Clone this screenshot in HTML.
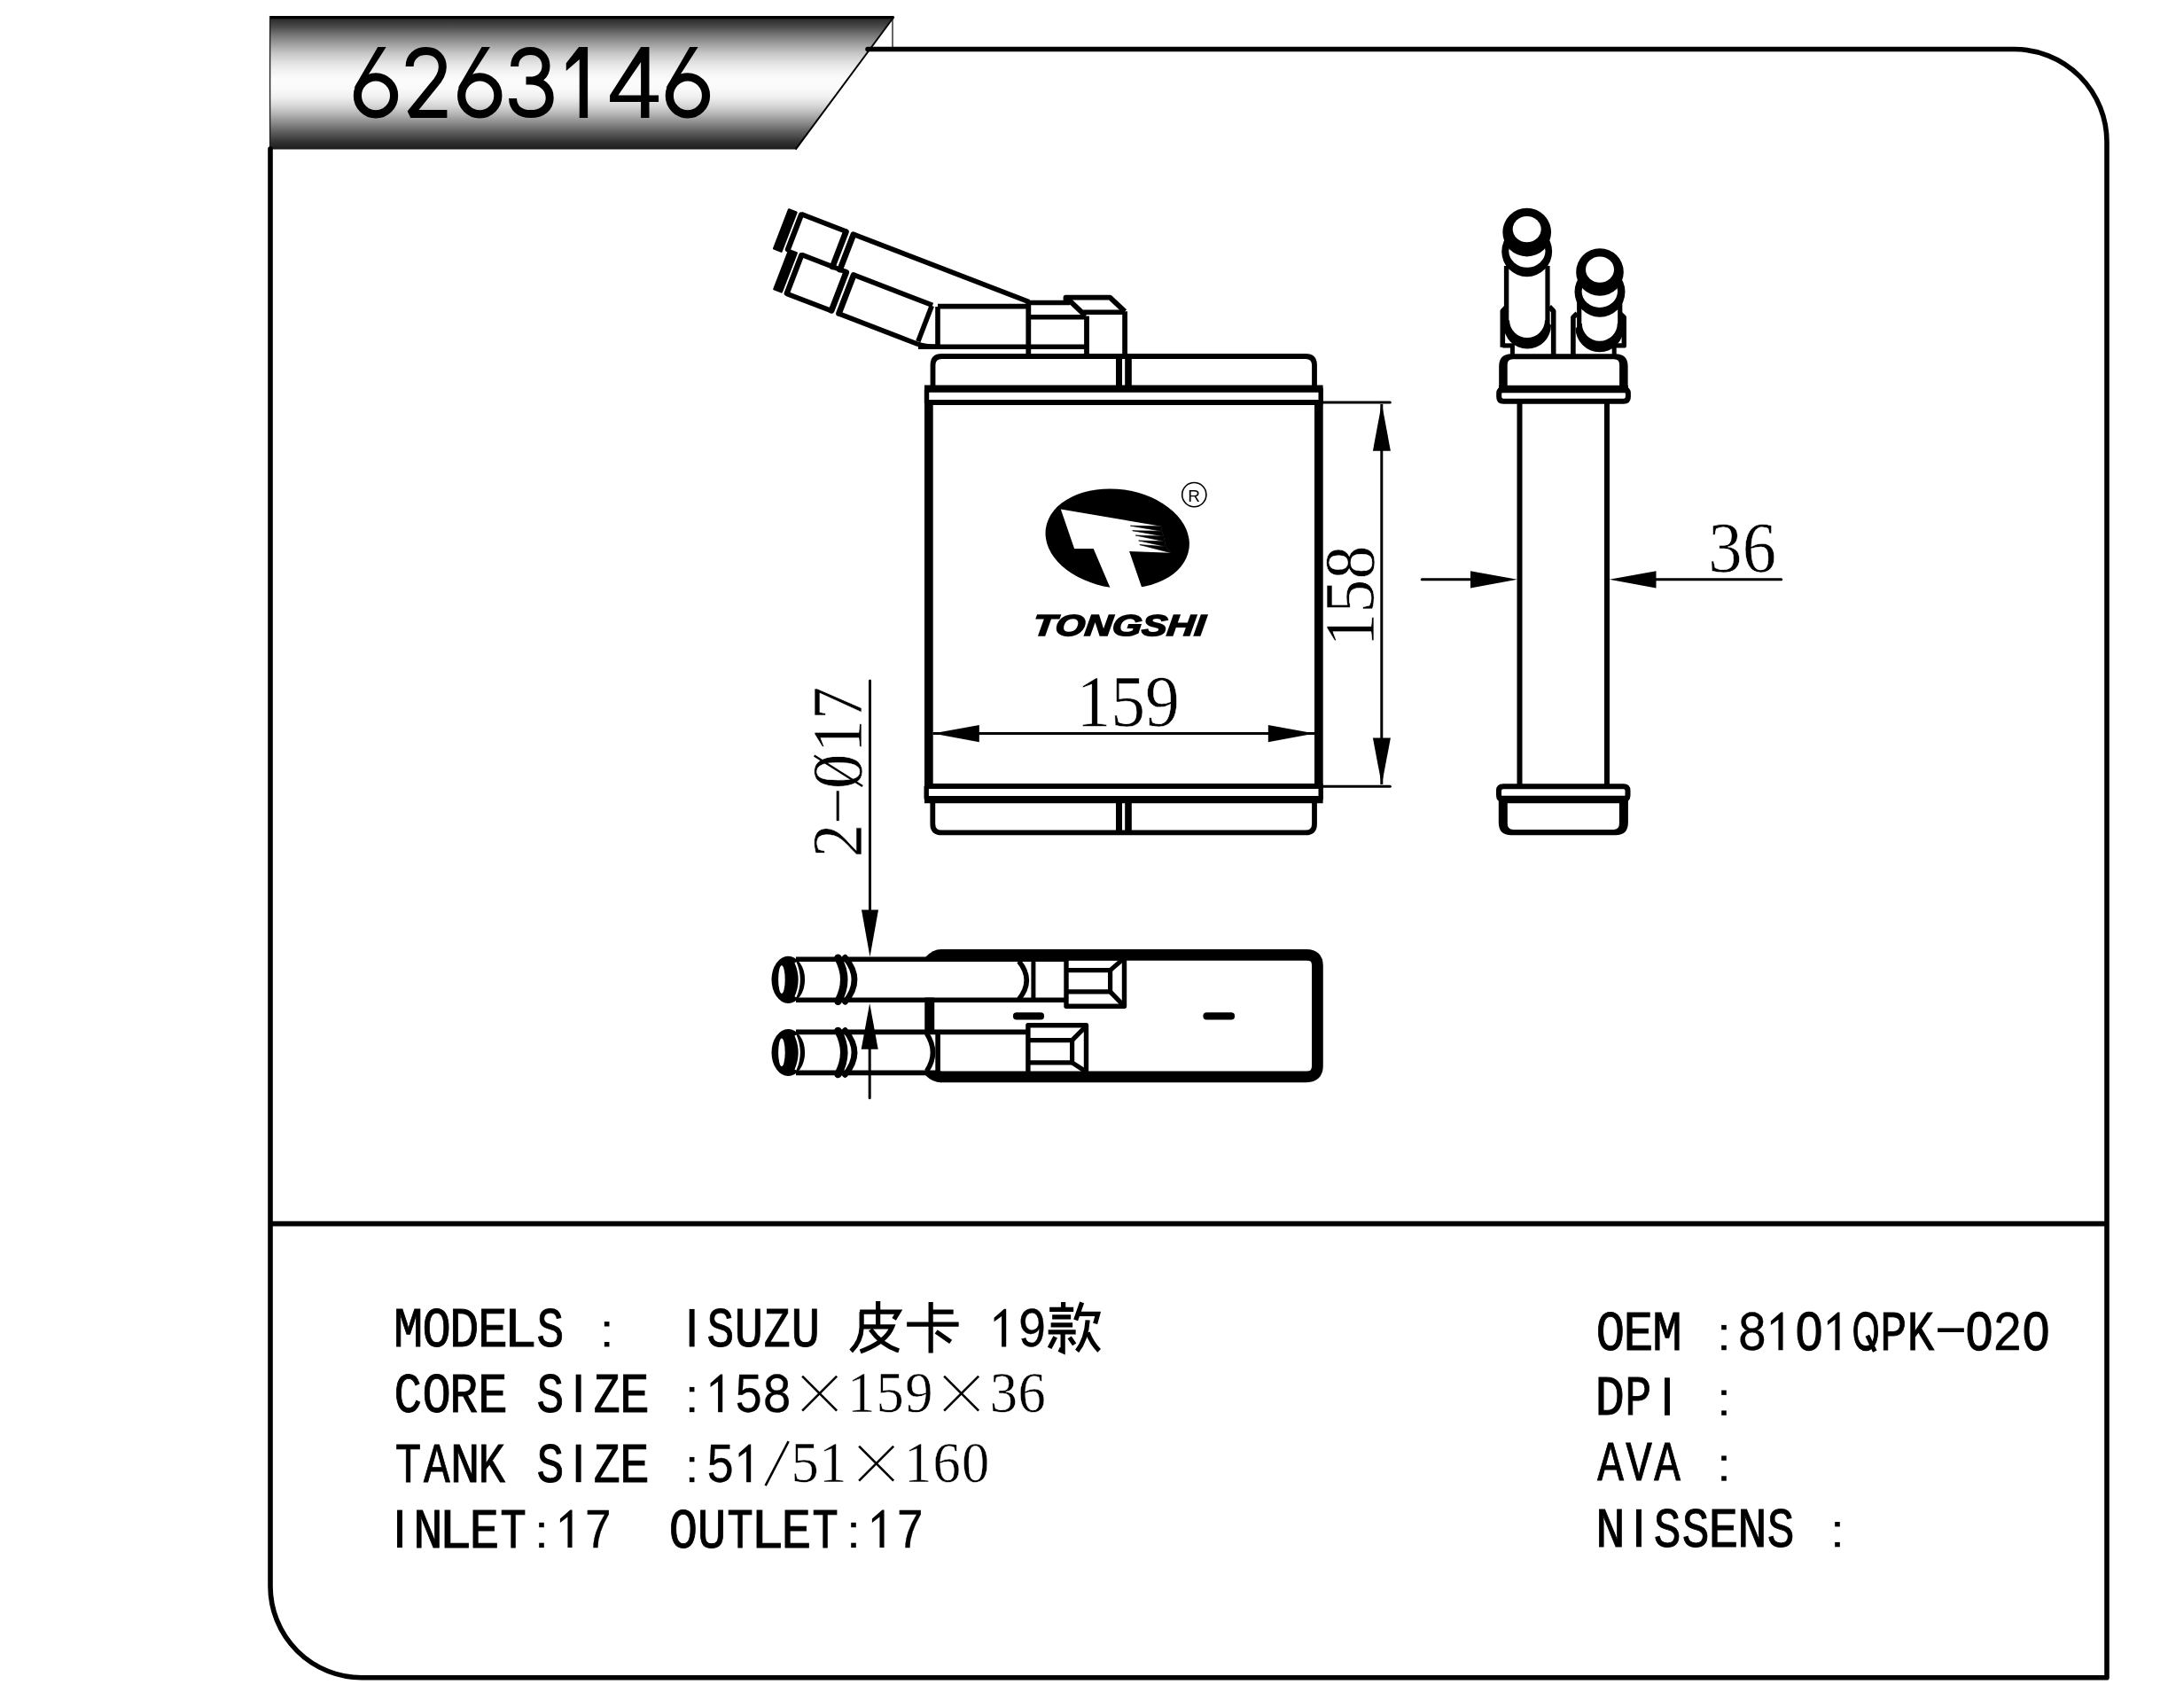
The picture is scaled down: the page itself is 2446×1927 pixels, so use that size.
<!DOCTYPE html>
<html><head><meta charset="utf-8"><style>
html,body{margin:0;padding:0;background:#fff;}
body{width:2446px;height:1927px;overflow:hidden;font-family:"Liberation Sans",sans-serif;}
svg{display:block;}
</style></head><body>
<svg width="2446" height="1927" viewBox="0 0 2446 1927">
<defs>
<linearGradient id="bg" x1="0" y1="18" x2="0" y2="169" gradientUnits="userSpaceOnUse">
<stop offset="0.000" stop-color="#111"/>
<stop offset="0.020" stop-color="#2a2a2a"/>
<stop offset="0.079" stop-color="#4a4a4a"/>
<stop offset="0.146" stop-color="#787878"/>
<stop offset="0.212" stop-color="#a0a0a0"/>
<stop offset="0.278" stop-color="#c5c5c5"/>
<stop offset="0.344" stop-color="#e0e0e0"/>
<stop offset="0.411" stop-color="#f2f2f2"/>
<stop offset="0.477" stop-color="#fcfcfc"/>
<stop offset="0.543" stop-color="#fafafa"/>
<stop offset="0.609" stop-color="#efefef"/>
<stop offset="0.675" stop-color="#d5d5d5"/>
<stop offset="0.742" stop-color="#afafaf"/>
<stop offset="0.808" stop-color="#858585"/>
<stop offset="0.874" stop-color="#5a5a5a"/>
<stop offset="0.940" stop-color="#333333"/>
<stop offset="1.000" stop-color="#1a1a1a"/>
</linearGradient>
<filter id="gs" x="-5%" y="-20%" width="110%" height="140%"><feColorMatrix type="saturate" values="0"/></filter>
</defs>
<path d="M304 18 L1008.5 18 L897.6 168.6 L304 168.6 Z" fill="url(#bg)"/>
<path d="M304 19.6 L1008.5 19.6" stroke="#000" stroke-width="3.4"/>
<path d="M304.6 18 L304.6 168.6" stroke="#222" stroke-width="1.4"/>
<path d="M1008.5 19 L897.6 168.6" stroke="#000" stroke-width="2"/>
<path d="M1007 20 L1007 55" stroke="#000" stroke-width="1.2"/>
<ellipse cx="424" cy="107.9" rx="20.6" ry="21" fill="none" stroke="#000" stroke-width="9.2"/><path d="M399.3 99.5 L426.3 53.1 L435.7 53.1 L414.5 86 Z"/>
<ellipse cx="541.25" cy="107.9" rx="20.6" ry="21" fill="none" stroke="#000" stroke-width="9.2"/><path d="M516.55 99.5 L543.55 53.1 L552.95 53.1 L531.75 86 Z"/>
<ellipse cx="775.9" cy="107.9" rx="20.6" ry="21" fill="none" stroke="#000" stroke-width="9.2"/><path d="M751.2 99.5 L778.2 53.1 L787.6 53.1 L766.4 86 Z"/>
<path d="M462.1 75 C462.3 63.5 470.5 57.6 481 57.6 C492 57.6 499.3 65 499.3 75.5 C499.3 83.5 495.5 89.5 489 96.5 L463.2 128.4 L504.4 128.4" fill="none" stroke="#000" stroke-width="9" stroke-linejoin="miter" stroke-miterlimit="1.5"/>
<path d="M580.6 75 C580.6 64 588 57.6 598.5 57.6 C609 57.6 616 64.3 616 74.5 C616 84.5 608.5 91 598 91 L593.5 91 M598 91 C610.5 91 620.2 98.5 620.2 110.5 C620.2 121.5 611.5 128.6 598.5 128.6 C586 128.6 578.6 121.5 578.6 111" fill="none" stroke="#000" stroke-width="9"/>
<path d="M638.75 71.3 L653.1 53.1 L663.1 53.1 L663.1 133.1 L653.75 133.1 L653.75 66.9 L638.75 80 Z"/>
<path d="M688.1 107.5 L723.1 53.1 L732.5 53.1 L732.5 107.5 L743.1 107.5 L743.1 115 L732.5 115 L732.5 133.1 L723.1 133.1 L723.1 115 L688.1 115 Z M697.5 107.5 L723.1 70 L723.1 107.5 Z" fill-rule="evenodd"/>
<path d="M305 168 L305 1790 A103 103 0 0 0 408 1892.7 L2377 1892.7 L2377 160 A104.5 104.5 0 0 0 2272.5 55.5 L979 55.5" stroke="#000" stroke-width="5.6" fill="none" stroke-linecap="round" stroke-linejoin="round"/>
<path d="M305 1380.6 L2377 1380.6" stroke="#000" stroke-width="5.6"/>
<text transform="translate(444 1519) scale(0.88 1)" font-family="Liberation Mono" font-weight="normal" font-style="normal" font-size="63.31" stroke="#000" stroke-width="0.9">M</text>
<text transform="translate(476.46 1519) scale(0.85 1)" font-family="Liberation Mono" font-weight="normal" font-style="normal" font-size="63.31" stroke="#000" stroke-width="0.9">O</text>
<text transform="translate(507.08 1519) scale(0.88 1)" font-family="Liberation Mono" font-weight="normal" font-style="normal" font-size="63.31" stroke="#000" stroke-width="0.9">D</text>
<text transform="translate(539.06 1519) scale(0.89 1)" font-family="Liberation Mono" font-weight="normal" font-style="normal" font-size="63.31" stroke="#000" stroke-width="0.9">E</text>
<text transform="translate(568.28 1519) scale(0.99 1)" font-family="Liberation Mono" font-weight="normal" font-style="normal" font-size="63.31" stroke="#000" stroke-width="0.9">L</text>
<text transform="translate(605.52 1519) scale(0.81 1)" font-family="Liberation Mono" font-weight="normal" font-style="normal" font-size="63.31" stroke="#000" stroke-width="0.9">S</text>

<rect x="681.85" y="1491.1" width="5.6" height="5.4"/><rect x="681.85" y="1514" width="5.6" height="5.4"/>


<rect x="777.7" y="1476.9" width="5.9" height="42.5"/>
<text transform="translate(797.52 1519) scale(0.81 1)" font-family="Liberation Mono" font-weight="normal" font-style="normal" font-size="63.31" stroke="#000" stroke-width="0.9">S</text>
<text transform="translate(828.39 1519) scale(0.86 1)" font-family="Liberation Mono" font-weight="normal" font-style="normal" font-size="63.31" stroke="#000" stroke-width="0.9">U</text>
<text transform="translate(861.73 1519) scale(0.79 1)" font-family="Liberation Mono" font-weight="normal" font-style="normal" font-size="63.31" stroke="#000" stroke-width="0.9">Z</text>
<text transform="translate(892.39 1519) scale(0.86 1)" font-family="Liberation Mono" font-weight="normal" font-style="normal" font-size="63.31" stroke="#000" stroke-width="0.9">U</text>

<path d="M34 -51.4 L34 -39.5 M13.5 -39.2 L57 -39.2 L52 -31 M15.5 -39.2 L15.5 -22 Q15 -6 3.5 5 M34 -39 L34 -22.5 M16 -22.6 L50 -22.6 Q43 -5 14 5.5 M25.5 -19.5 Q38 -2 57.5 4.5" transform="translate(956.65 1519.4)" stroke="#000" stroke-width="5.2" fill="none" stroke-linecap="butt" stroke-linejoin="miter"/>
<path d="M29.5 -50.5 L29.5 7 M29.5 -39.2 L55 -39.2 M2.5 -25.3 L61 -25.3 M35.5 -17 L52 -5.5" transform="translate(1020.65 1519.4)" stroke="#000" stroke-width="5.2" fill="none" stroke-linecap="butt" stroke-linejoin="miter"/>

<path d="M1130.1 1519.4L1130.1 1484.9L1121.55 1491.3L1121.55 1486.7L1132.95 1476.8L1135.2 1476.8L1135.2 1519.4Z"/>
<text transform="translate(1148.1 1519) scale(0.87 1)" font-family="Liberation Mono" font-weight="normal" font-style="normal" font-size="63.31" stroke="#000" stroke-width="0.35">9</text>
<path d="M19 -50.5 L19 -41 M3.5 -42 L30.5 -42 M6.5 -33.5 L27.5 -33.5 M5 -24.5 L29.5 -24.5 M2 -16.5 L33 -16.5 M18.5 -16.5 L18.5 5 L14 3 M10 -11 L3.5 1.5 M26 -10.5 L31.5 -2.5 M40 -50 L33 -30 M37 -37 L58 -37 L55 -26 M46.5 -30 Q45 -8 34.5 5 M46.5 -16 Q51 -4 59.5 4.5" transform="translate(1180.65 1519.4)" stroke="#000" stroke-width="5.2" fill="none" stroke-linecap="butt" stroke-linejoin="miter"/>
<text transform="translate(444.61 1592.8) scale(0.83 1)" font-family="Liberation Mono" font-weight="normal" font-style="normal" font-size="63.31" stroke="#000" stroke-width="0.9">C</text>
<text transform="translate(476.46 1592.8) scale(0.85 1)" font-family="Liberation Mono" font-weight="normal" font-style="normal" font-size="63.31" stroke="#000" stroke-width="0.9">O</text>
<text transform="translate(507.3 1592.8) scale(0.84 1)" font-family="Liberation Mono" font-weight="normal" font-style="normal" font-size="63.31" stroke="#000" stroke-width="0.9">R</text>
<text transform="translate(539.06 1592.8) scale(0.89 1)" font-family="Liberation Mono" font-weight="normal" font-style="normal" font-size="63.31" stroke="#000" stroke-width="0.9">E</text>

<text transform="translate(605.52 1592.8) scale(0.81 1)" font-family="Liberation Mono" font-weight="normal" font-style="normal" font-size="63.31" stroke="#000" stroke-width="0.9">S</text>
<rect x="649.7" y="1550.7" width="5.9" height="42.5"/>
<text transform="translate(669.73 1592.8) scale(0.79 1)" font-family="Liberation Mono" font-weight="normal" font-style="normal" font-size="63.31" stroke="#000" stroke-width="0.9">Z</text>
<text transform="translate(699.06 1592.8) scale(0.89 1)" font-family="Liberation Mono" font-weight="normal" font-style="normal" font-size="63.31" stroke="#000" stroke-width="0.9">E</text>

<rect x="777.85" y="1564.9" width="5.6" height="5.4"/><rect x="777.85" y="1587.8" width="5.6" height="5.4"/>
<path d="M810.1 1593.2L810.1 1558.7L801.55 1565.1L801.55 1560.5L812.95 1550.6L815.2 1550.6L815.2 1593.2Z"/>
<text transform="translate(828.54 1592.8) scale(0.85 1)" font-family="Liberation Mono" font-weight="normal" font-style="normal" font-size="63.31" stroke="#000" stroke-width="0.35">5</text>
<text transform="translate(859.73 1592.8) scale(0.89 1)" font-family="Liberation Mono" font-weight="normal" font-style="normal" font-size="63.31" stroke="#000" stroke-width="0.35">8</text>
<path d="M905.15 1552.7L944.15 1591.7M944.15 1552.7L905.15 1591.7" stroke="#000" stroke-width="2.6" fill="none"/>
<text transform="translate(956.14 1593.2) scale(0.97 1)" font-family="Liberation Serif" font-weight="normal" font-style="normal" font-size="64.5" stroke="#fff" stroke-width="0.5">1</text>
<text transform="translate(988.41 1593.2) scale(0.97 1)" font-family="Liberation Serif" font-weight="normal" font-style="normal" font-size="64.5" stroke="#fff" stroke-width="0.5">5</text>
<text transform="translate(1021.28 1593.2) scale(0.97 1)" font-family="Liberation Serif" font-weight="normal" font-style="normal" font-size="64.5" stroke="#fff" stroke-width="0.5">9</text>
<path d="M1065.15 1552.7L1104.15 1591.7M1104.15 1552.7L1065.15 1591.7" stroke="#000" stroke-width="2.6" fill="none"/>
<text transform="translate(1116.73 1593.2) scale(0.97 1)" font-family="Liberation Serif" font-weight="normal" font-style="normal" font-size="64.5" stroke="#fff" stroke-width="0.5">3</text>
<text transform="translate(1148.6 1593.2) scale(0.97 1)" font-family="Liberation Serif" font-weight="normal" font-style="normal" font-size="64.5" stroke="#fff" stroke-width="0.5">6</text>
<text transform="translate(445.81 1671.8) scale(0.78 1)" font-family="Liberation Mono" font-weight="normal" font-style="normal" font-size="63.31" stroke="#000" stroke-width="0.9">T</text>
<text transform="translate(477.9 1671.8) scale(0.78 1)" font-family="Liberation Mono" font-weight="normal" font-style="normal" font-size="63.31" stroke="#000" stroke-width="0.9">A</text>
<text transform="translate(507.67 1671.8) scale(0.89 1)" font-family="Liberation Mono" font-weight="normal" font-style="normal" font-size="63.31" stroke="#000" stroke-width="0.9">N</text>
<text transform="translate(539.5 1671.8) scale(0.8 1)" font-family="Liberation Mono" font-weight="normal" font-style="normal" font-size="63.31" stroke="#000" stroke-width="0.9">K</text>

<text transform="translate(605.52 1671.8) scale(0.81 1)" font-family="Liberation Mono" font-weight="normal" font-style="normal" font-size="63.31" stroke="#000" stroke-width="0.9">S</text>
<rect x="649.7" y="1629.7" width="5.9" height="42.5"/>
<text transform="translate(669.73 1671.8) scale(0.79 1)" font-family="Liberation Mono" font-weight="normal" font-style="normal" font-size="63.31" stroke="#000" stroke-width="0.9">Z</text>
<text transform="translate(699.06 1671.8) scale(0.89 1)" font-family="Liberation Mono" font-weight="normal" font-style="normal" font-size="63.31" stroke="#000" stroke-width="0.9">E</text>

<rect x="777.85" y="1643.9" width="5.6" height="5.4"/><rect x="777.85" y="1666.8" width="5.6" height="5.4"/>
<text transform="translate(796.54 1671.8) scale(0.85 1)" font-family="Liberation Mono" font-weight="normal" font-style="normal" font-size="63.31" stroke="#000" stroke-width="0.35">5</text>
<path d="M842.1 1672.2L842.1 1637.7L833.55 1644.1L833.55 1639.5L844.95 1629.6L847.2 1629.6L847.2 1672.2Z"/>
<path d="M889.65 1626.2L863.65 1676.2" stroke="#000" stroke-width="2.6" fill="none"/>
<text transform="translate(892.41 1672.2) scale(0.97 1)" font-family="Liberation Serif" font-weight="normal" font-style="normal" font-size="64.5" stroke="#fff" stroke-width="0.5">5</text>
<text transform="translate(924.14 1672.2) scale(0.97 1)" font-family="Liberation Serif" font-weight="normal" font-style="normal" font-size="64.5" stroke="#fff" stroke-width="0.5">1</text>
<path d="M969.15 1631.7L1008.15 1670.7M1008.15 1631.7L969.15 1670.7" stroke="#000" stroke-width="2.6" fill="none"/>
<text transform="translate(1020.14 1672.2) scale(0.97 1)" font-family="Liberation Serif" font-weight="normal" font-style="normal" font-size="64.5" stroke="#fff" stroke-width="0.5">1</text>
<text transform="translate(1052.6 1672.2) scale(0.97 1)" font-family="Liberation Serif" font-weight="normal" font-style="normal" font-size="64.5" stroke="#fff" stroke-width="0.5">6</text>
<text transform="translate(1085.01 1672.2) scale(0.97 1)" font-family="Liberation Serif" font-weight="normal" font-style="normal" font-size="64.5" stroke="#fff" stroke-width="0.5">0</text>
<rect x="448.05" y="1703.6" width="5.9" height="42.5"/>
<text transform="translate(466.02 1745.7) scale(0.89 1)" font-family="Liberation Mono" font-weight="normal" font-style="normal" font-size="63.31" stroke="#000" stroke-width="0.9">N</text>
<text transform="translate(494.63 1745.7) scale(0.99 1)" font-family="Liberation Mono" font-weight="normal" font-style="normal" font-size="63.31" stroke="#000" stroke-width="0.9">L</text>
<text transform="translate(529.41 1745.7) scale(0.89 1)" font-family="Liberation Mono" font-weight="normal" font-style="normal" font-size="63.31" stroke="#000" stroke-width="0.9">E</text>
<text transform="translate(564.16 1745.7) scale(0.78 1)" font-family="Liberation Mono" font-weight="normal" font-style="normal" font-size="63.31" stroke="#000" stroke-width="0.9">T</text>
<rect x="608.2" y="1717.8" width="5.6" height="5.4"/><rect x="608.2" y="1740.7" width="5.6" height="5.4"/>
<path d="M640.45 1746.1L640.45 1711.6L631.9 1718L631.9 1713.4L643.3 1703.5L645.55 1703.5L645.55 1746.1Z"/>
<text transform="translate(658.84 1745.7) scale(0.85 1)" font-family="Liberation Mono" font-weight="normal" font-style="normal" font-size="63.31" stroke="#000" stroke-width="0.35">7</text>


<text transform="translate(754.81 1745.7) scale(0.85 1)" font-family="Liberation Mono" font-weight="normal" font-style="normal" font-size="63.31" stroke="#000" stroke-width="0.9">O</text>
<text transform="translate(786.74 1745.7) scale(0.86 1)" font-family="Liberation Mono" font-weight="normal" font-style="normal" font-size="63.31" stroke="#000" stroke-width="0.9">U</text>
<text transform="translate(820.16 1745.7) scale(0.78 1)" font-family="Liberation Mono" font-weight="normal" font-style="normal" font-size="63.31" stroke="#000" stroke-width="0.9">T</text>
<text transform="translate(846.63 1745.7) scale(0.99 1)" font-family="Liberation Mono" font-weight="normal" font-style="normal" font-size="63.31" stroke="#000" stroke-width="0.9">L</text>
<text transform="translate(881.41 1745.7) scale(0.89 1)" font-family="Liberation Mono" font-weight="normal" font-style="normal" font-size="63.31" stroke="#000" stroke-width="0.9">E</text>
<text transform="translate(916.16 1745.7) scale(0.78 1)" font-family="Liberation Mono" font-weight="normal" font-style="normal" font-size="63.31" stroke="#000" stroke-width="0.9">T</text>
<rect x="960.2" y="1717.8" width="5.6" height="5.4"/><rect x="960.2" y="1740.7" width="5.6" height="5.4"/>
<path d="M992.45 1746.1L992.45 1711.6L983.9 1718L983.9 1713.4L995.3 1703.5L997.55 1703.5L997.55 1746.1Z"/>
<text transform="translate(1010.84 1745.7) scale(0.85 1)" font-family="Liberation Mono" font-weight="normal" font-style="normal" font-size="63.31" stroke="#000" stroke-width="0.35">7</text>
<text transform="translate(1800.81 1522.8) scale(0.85 1)" font-family="Liberation Mono" font-weight="normal" font-style="normal" font-size="63.31" stroke="#000" stroke-width="0.9">O</text>
<text transform="translate(1831.41 1522.8) scale(0.89 1)" font-family="Liberation Mono" font-weight="normal" font-style="normal" font-size="63.31" stroke="#000" stroke-width="0.9">E</text>
<text transform="translate(1864.35 1522.8) scale(0.88 1)" font-family="Liberation Mono" font-weight="normal" font-style="normal" font-size="63.31" stroke="#000" stroke-width="0.9">M</text>

<rect x="1942.2" y="1494.9" width="5.6" height="5.4"/><rect x="1942.2" y="1517.8" width="5.6" height="5.4"/>
<text transform="translate(1960.08 1522.8) scale(0.89 1)" font-family="Liberation Mono" font-weight="normal" font-style="normal" font-size="63.31" stroke="#000" stroke-width="0.35">8</text>
<path d="M2006.45 1523.2L2006.45 1488.7L1997.9 1495.1L1997.9 1490.5L2009.3 1480.6L2011.55 1480.6L2011.55 1523.2Z"/>
<text transform="translate(2025.88 1523.2) scale(0.88 1)" font-family="Liberation Sans" font-weight="normal" font-style="normal" font-size="61.77" stroke="#000" stroke-width="1.3">0</text>
<path d="M2070.45 1523.2L2070.45 1488.7L2061.9 1495.1L2061.9 1490.5L2073.3 1480.6L2075.55 1480.6L2075.55 1523.2Z"/>
<text transform="translate(2089.63 1523.2) scale(0.64 1)" font-family="Liberation Sans" font-weight="normal" font-style="normal" font-size="61.77" stroke="#000" stroke-width="1.3">O</text><path d="M2106.8 1506.7L2115.3 1524.6" stroke="#000" stroke-width="5"/>
<text transform="translate(2121.27 1522.8) scale(0.79 1)" font-family="Liberation Mono" font-weight="normal" font-style="normal" font-size="63.31" stroke="#000" stroke-width="0.9">P</text>
<text transform="translate(2151.85 1522.8) scale(0.8 1)" font-family="Liberation Mono" font-weight="normal" font-style="normal" font-size="63.31" stroke="#000" stroke-width="0.9">K</text>
<rect x="2186.15" y="1498.4" width="29.7" height="4.6"/>
<text transform="translate(2217.88 1523.2) scale(0.88 1)" font-family="Liberation Sans" font-weight="normal" font-style="normal" font-size="61.77" stroke="#000" stroke-width="1.3">0</text>
<text transform="translate(2248.02 1522.8) scale(0.89 1)" font-family="Liberation Mono" font-weight="normal" font-style="normal" font-size="63.31" stroke="#000" stroke-width="0.35">2</text>
<text transform="translate(2281.88 1523.2) scale(0.88 1)" font-family="Liberation Sans" font-weight="normal" font-style="normal" font-size="61.77" stroke="#000" stroke-width="1.3">0</text>
<text transform="translate(1799.43 1596.4) scale(0.88 1)" font-family="Liberation Mono" font-weight="normal" font-style="normal" font-size="63.31" stroke="#000" stroke-width="0.9">D</text>
<text transform="translate(1833.27 1596.4) scale(0.79 1)" font-family="Liberation Mono" font-weight="normal" font-style="normal" font-size="63.31" stroke="#000" stroke-width="0.9">P</text>
<rect x="1878.05" y="1554.3" width="5.9" height="42.5"/>

<rect x="1942.2" y="1568.5" width="5.6" height="5.4"/><rect x="1942.2" y="1591.4" width="5.6" height="5.4"/>
<text transform="translate(1802.25 1670.3) scale(0.78 1)" font-family="Liberation Mono" font-weight="normal" font-style="normal" font-size="63.31" stroke="#000" stroke-width="0.9">A</text>
<text transform="translate(1834.26 1670.3) scale(0.78 1)" font-family="Liberation Mono" font-weight="normal" font-style="normal" font-size="63.31" stroke="#000" stroke-width="0.9">V</text>
<text transform="translate(1866.25 1670.3) scale(0.78 1)" font-family="Liberation Mono" font-weight="normal" font-style="normal" font-size="63.31" stroke="#000" stroke-width="0.9">A</text>

<rect x="1942.2" y="1642.4" width="5.6" height="5.4"/><rect x="1942.2" y="1665.3" width="5.6" height="5.4"/>
<text transform="translate(1800.02 1744.9) scale(0.89 1)" font-family="Liberation Mono" font-weight="normal" font-style="normal" font-size="63.31" stroke="#000" stroke-width="0.9">N</text>
<rect x="1846.05" y="1702.8" width="5.9" height="42.5"/>
<text transform="translate(1865.87 1744.9) scale(0.81 1)" font-family="Liberation Mono" font-weight="normal" font-style="normal" font-size="63.31" stroke="#000" stroke-width="0.9">S</text>
<text transform="translate(1897.87 1744.9) scale(0.81 1)" font-family="Liberation Mono" font-weight="normal" font-style="normal" font-size="63.31" stroke="#000" stroke-width="0.9">S</text>
<text transform="translate(1927.41 1744.9) scale(0.89 1)" font-family="Liberation Mono" font-weight="normal" font-style="normal" font-size="63.31" stroke="#000" stroke-width="0.9">E</text>
<text transform="translate(1960.02 1744.9) scale(0.89 1)" font-family="Liberation Mono" font-weight="normal" font-style="normal" font-size="63.31" stroke="#000" stroke-width="0.9">N</text>
<text transform="translate(1993.87 1744.9) scale(0.81 1)" font-family="Liberation Mono" font-weight="normal" font-style="normal" font-size="63.31" stroke="#000" stroke-width="0.9">S</text>

<rect x="2070.2" y="1717" width="5.6" height="5.4"/><rect x="2070.2" y="1739.9" width="5.6" height="5.4"/>
<path d="M1052.5 437 L1052.5 412 Q1052.5 402 1062.5 402 L1473 402 Q1483 402 1483 412 L1483 437" stroke="#000" stroke-width="5.8" fill="none" stroke-linecap="butt" stroke-linejoin="round"/>
<path d="M1045.5 455 L1045.5 440 Q1045.5 438.7 1047 438.7 L1489 438.7 Q1490.2 438.7 1490.2 440 L1490.2 455" stroke="#000" stroke-width="5.4" fill="none" stroke-linecap="butt" stroke-linejoin="round"/>
<path d="M1043 438.7 L1492.6 438.7" stroke="#000" stroke-width="8.2" fill="none" stroke-linejoin="round" stroke-linecap="butt"/>
<path d="M1043 454 L1492.6 454" stroke="#000" stroke-width="6" fill="none" stroke-linecap="butt" stroke-linejoin="round"/>
<path d="M1043 887 L1492.6 887" stroke="#000" stroke-width="6" fill="none" stroke-linecap="butt" stroke-linejoin="round"/>
<path d="M1043 452 L1052.7 452 L1052.7 889 L1043 889 Z" fill="#000"/>
<path d="M1483 452 L1492.7 452 L1492.7 889 L1483 889 Z" fill="#000"/>
<path d="M1045.2 887 L1045.2 900 Q1045.2 902 1047 902 L1489 902 Q1490.2 902 1490.2 900 L1490.2 887" stroke="#000" stroke-width="5.4" fill="none" stroke-linecap="butt" stroke-linejoin="round"/>
<path d="M1043 902.1 L1492.6 902.1" stroke="#000" stroke-width="8.2" fill="none" stroke-linejoin="round" stroke-linecap="butt"/>
<path d="M1052.3 903 L1052.3 929.4 Q1052.3 939.4 1062.3 939.4 L1473 939.4 Q1483 939.4 1483 929.4 L1483 903" stroke="#000" stroke-width="5.8" fill="none" stroke-linecap="butt" stroke-linejoin="round"/>
<path d="M1262.5 402 L1262.5 438" stroke="#000" stroke-width="7" fill="none" stroke-linejoin="round" stroke-linecap="butt"/>
<path d="M1273 402 L1273 438" stroke="#000" stroke-width="7.6" fill="none" stroke-linejoin="round" stroke-linecap="butt"/>
<path d="M1262.5 902 L1262.5 939.4" stroke="#000" stroke-width="7" fill="none" stroke-linejoin="round" stroke-linecap="butt"/>
<path d="M1273 902 L1273 939.4" stroke="#000" stroke-width="7.6" fill="none" stroke-linejoin="round" stroke-linecap="butt"/>
<path d="M1058 346 L1058 391.2" stroke="#000" stroke-width="5.6" fill="none" stroke-linecap="butt" stroke-linejoin="round"/>
<path d="M1058 345.6 L1160 345.6" stroke="#000" stroke-width="5.6" fill="none" stroke-linecap="butt" stroke-linejoin="round"/>
<path d="M1160.3 340.6 L1160.3 403.5" stroke="#000" stroke-width="5.8" fill="none" stroke-linecap="butt" stroke-linejoin="round"/>
<path d="M1036 391.2 L1226 391.2" stroke="#000" stroke-width="5.6" fill="none" stroke-linecap="butt" stroke-linejoin="round"/>
<path d="M1160.3 341.5 L1207 341.5" stroke="#000" stroke-width="5.6" fill="none" stroke-linecap="butt" stroke-linejoin="round"/>
<path d="M1203.5 336.2 L1224.8 356.3" stroke="#000" stroke-width="5.8" fill="none" stroke-linecap="butt" stroke-linejoin="round"/>
<path d="M1160.3 357.8 L1224.8 357.8" stroke="#000" stroke-width="5.6" fill="none" stroke-linecap="butt" stroke-linejoin="round"/>
<path d="M1226 356.5 L1226 403.5" stroke="#000" stroke-width="5.8" fill="none" stroke-linecap="butt" stroke-linejoin="round"/>
<path d="M1202.5 341.5 L1202.5 335.6 L1252.3 335.6 L1269.1 351.3" stroke="#000" stroke-width="5.8" fill="none" stroke-linecap="butt" stroke-linejoin="round"/>
<path d="M1222 352.3 L1269.1 352.3" stroke="#000" stroke-width="5.6" fill="none" stroke-linecap="butt" stroke-linejoin="round"/>
<path d="M1269.1 351.3 L1269.1 402" stroke="#000" stroke-width="5.8" fill="none" stroke-linecap="butt" stroke-linejoin="round"/>
<path d="M890.06 236.47 L898.46 239.7 L881.53 283.66 L873.13 280.42 Z" fill="#000" stroke="#000" stroke-width="2.4" stroke-linejoin="round"/>
<path d="M903.93 242.45 L888.91 281.46" stroke="#000" stroke-width="6.2" fill="none" stroke-linejoin="round" stroke-linecap="round"/>
<path d="M904.22 241.71 L954.61 261.12" stroke="#000" stroke-width="5.6" fill="none" stroke-linejoin="round" stroke-linecap="butt"/>
<path d="M954.44 261.58 L939.3 300.87" stroke="#000" stroke-width="6.8" fill="none" stroke-linejoin="round" stroke-linecap="round"/>
<path d="M962.83 264.82 L947.7 304.1" stroke="#000" stroke-width="6.8" fill="none" stroke-linejoin="round" stroke-linecap="round"/>
<path d="M963.01 264.35 L1161.04 340.61" stroke="#000" stroke-width="5.6" fill="none" stroke-linejoin="round" stroke-linecap="butt"/>
<path d="M890.31 282.22 L898.71 285.45 L881.78 329.41 L873.38 326.17 Z" fill="#000" stroke="#000" stroke-width="2.4" stroke-linejoin="round"/>
<path d="M904.18 288.2 L887.76 330.85" stroke="#000" stroke-width="6.2" fill="none" stroke-linejoin="round" stroke-linecap="round"/>
<path d="M904.47 287.46 L954.86 306.87" stroke="#000" stroke-width="5.6" fill="none" stroke-linejoin="round" stroke-linecap="butt"/>
<path d="M954.69 307.33 L938.15 350.26" stroke="#000" stroke-width="6.8" fill="none" stroke-linejoin="round" stroke-linecap="round"/>
<path d="M963.08 310.57 L946.55 353.49" stroke="#000" stroke-width="6.8" fill="none" stroke-linejoin="round" stroke-linecap="round"/>
<path d="M963.26 310.1 L1052.1 344.31" stroke="#000" stroke-width="5.6" fill="none" stroke-linejoin="round" stroke-linecap="butt"/>
<path d="M887.58 331.32 L937.97 350.73" stroke="#000" stroke-width="5.6" fill="none" stroke-linejoin="round" stroke-linecap="butt"/>
<path d="M1051.28 345.07 L1035.82 385.2" stroke="#000" stroke-width="5.6" fill="none" stroke-linecap="butt" stroke-linejoin="round"/>
<path d="M946.37 353.96 L1034.75 388 Q1043.5 391.3 1058 391.2" stroke="#000" stroke-width="5.6" fill="none" stroke-linejoin="round" stroke-linecap="butt"/>
<ellipse cx="1260.7" cy="607.6" rx="81.6" ry="55.6" transform="rotate(8 1260.7 607.6)" fill="#000"/>
<path d="M1196.8 574.5 L1306.9 593.2 L1309.9 593.8 L1311 599.3 L1312.8 605 L1314 610.8 L1315.4 616.7 L1321 623.7 L1274.1 621.9 L1288.8 664.5 L1253.1 664.5 L1233.7 619 L1212.1 619 Z" fill="#fff"/>
<path d="M1275.3 593.2 L1309.9 593.8 L1311 599.3 Z M1277.6 598.7 L1311 599.3 L1312.8 605 Z M1281.2 604 L1312.8 605 L1314 610.8 Z M1284.7 609.9 L1314 610.8 L1315.4 616.7 Z M1285.8 614.6 L1315.4 616.7 L1321 623.7 Z" fill="#000" stroke="#000" stroke-width="0.7" stroke-linejoin="round"/>
<circle cx="1347.3" cy="558.1" r="13.6" fill="none" stroke="#000" stroke-width="1.6"/>
<g opacity="0.995"><text transform="translate(1340.3 565.5) scale(1 1)" font-family="Liberation Sans" font-weight="normal" font-style="normal" font-size="19">R</text></g>
<g filter="url(#gs)"><text x="1166" y="717.3" font-family="Liberation Sans" font-weight="bold" font-style="italic" font-size="33.29" textLength="194.4" lengthAdjust="spacingAndGlyphs" transform="skewX(-6) translate(75 0) scale(0.999 1)" stroke="#000" stroke-width="1.6">TONGSHI</text></g>
<path d="M1492.6 454 L1568.3 454" stroke="#000" stroke-width="3" fill="none" stroke-linejoin="round" stroke-linecap="round"/>
<path d="M1492.6 887.3 L1568.3 887.3" stroke="#000" stroke-width="3" fill="none" stroke-linejoin="round" stroke-linecap="round"/>
<path d="M1558.8 456 L1558.8 885" stroke="#000" stroke-width="3" fill="none" stroke-linejoin="round" stroke-linecap="butt"/>
<path d="M1558.9 455 L1568.9 508.8 L1548.9 508.8 Z" fill="#000"/>
<path d="M1558.9 885.6 L1548.9 832.5 L1568.9 832.5 Z" fill="#000"/>
<path d="M1052.5 827.6 L1483.2 827.6" stroke="#000" stroke-width="3" fill="none" stroke-linejoin="round" stroke-linecap="butt"/>
<path d="M1052.5 827.6 L1104.8 818 L1104.8 837.2 Z" fill="#000"/>
<path d="M1483.2 827.6 L1430.8 837.2 L1430.8 818 Z" fill="#000"/>
<path d="M1604.2 653.8 L1700 653.8" stroke="#000" stroke-width="3" fill="none" stroke-linejoin="round" stroke-linecap="round"/>
<path d="M1830 653.8 L2009.7 653.8" stroke="#000" stroke-width="3" fill="none" stroke-linejoin="round" stroke-linecap="round"/>
<path d="M1714.3 400 L1714.3 900" stroke="#000" stroke-width="0.01" fill="none" stroke-linecap="butt" stroke-linejoin="round"/>
<path d="M1711.8 653.8 L1659 663.4 L1659 644.2 Z" fill="#000"/>
<path d="M1815.7 653.8 L1868.5 644.2 L1868.5 663.4 Z" fill="#000"/>
<path d="M981.5 767.9 L981.5 1030" stroke="#000" stroke-width="3" fill="none" stroke-linejoin="round" stroke-linecap="round"/>
<path d="M981.5 1079.4 L972 1026.6 L991 1026.6 Z" fill="#000"/>
<path d="M981.2 1180 L981.2 1238.7" stroke="#000" stroke-width="3" fill="none" stroke-linejoin="round" stroke-linecap="round"/>
<path d="M981.2 1131.9 L990.7 1183.7 L971.7 1183.7 Z" fill="#000"/>
<text transform="translate(1214.48 819.2) scale(0.95 1)" font-family="Liberation Serif" font-size="81.8" stroke="#fff" stroke-width="0.6">1</text>
<text transform="translate(1253.28 819.2) scale(0.95 1)" font-family="Liberation Serif" font-size="81.8" stroke="#fff" stroke-width="0.6">5</text>
<text transform="translate(1292.08 819.2) scale(0.95 1)" font-family="Liberation Serif" font-size="81.8" stroke="#fff" stroke-width="0.6">9</text>
<text transform="translate(1927.32 645.2) scale(0.95 1)" font-family="Liberation Serif" font-size="80.75" stroke="#fff" stroke-width="0.6">3</text>
<text transform="translate(1965.8 645.2) scale(0.95 1)" font-family="Liberation Serif" font-size="80.75" stroke="#fff" stroke-width="0.6">6</text>
<g transform="translate(1550.1 722.8) rotate(-90)"><text transform="translate(-6.68 0) scale(0.93 1)" font-family="Liberation Serif" font-size="81.34" stroke="#fff" stroke-width="0.6">1</text>
<text transform="translate(31.34 0) scale(0.93 1)" font-family="Liberation Serif" font-size="81.34" stroke="#fff" stroke-width="0.6">5</text>
<text transform="translate(69.37 0) scale(0.93 1)" font-family="Liberation Serif" font-size="81.34" stroke="#fff" stroke-width="0.6">8</text></g>
<g transform="translate(971.6 964) rotate(-90)"><text transform="translate(-3.29 0) scale(0.94 1)" font-family="Liberation Serif" font-size="79.83" stroke="#fff" stroke-width="0.6">2</text>
<path d="M37.9 -26.4 L71.7 -26.4" stroke="#000" stroke-width="3"/>
<text transform="translate(73.66 0) scale(1 1)" font-family="Liberation Serif" font-size="79.83" stroke="#fff" stroke-width="0.6">0</text>
<path d="M77 1.5 L111.5 -53" stroke="#000" stroke-width="2.4"/>
<text transform="translate(114.97 0) scale(0.93 1)" font-family="Liberation Serif" font-size="79.83" stroke="#fff" stroke-width="0.6">1</text>
<text transform="translate(152.11 0) scale(0.93 1)" font-family="Liberation Serif" font-size="79.83" stroke="#fff" stroke-width="0.6">7</text></g>
<path d="M1695.3 391.8 L1695.3 351 L1700 346" stroke="#000" stroke-width="5.6" fill="none" stroke-linecap="butt" stroke-linejoin="round"/>
<path d="M1695.3 389.9 L1708 389.9" stroke="#000" stroke-width="5.2" fill="none" stroke-linecap="butt" stroke-linejoin="round"/>
<path d="M1748 346 L1752.7 351 L1752.7 402" stroke="#000" stroke-width="5.6" fill="none" stroke-linecap="butt" stroke-linejoin="round"/>
<path d="M1706.4 389 L1706.4 402" stroke="#000" stroke-width="5" fill="none" stroke-linecap="butt" stroke-linejoin="round"/>
<path d="M1699.6 300 L1699.6 367" stroke="#000" stroke-width="5.4" fill="none" stroke-linecap="butt" stroke-linejoin="round"/>
<path d="M1746 300 L1746 367" stroke="#000" stroke-width="5.2" fill="none" stroke-linecap="butt" stroke-linejoin="round"/>
<path d="M1696.4 366.7 A26.8 26.8 0 0 0 1750 366.7 L1743 361 A20 20 0 0 1 1703 361 Z" fill="#000"/>
<circle cx="1722.7" cy="283.75" r="28.45" fill="#000"/>
<ellipse cx="1722.9" cy="283.2" rx="20.6" ry="18.6" fill="#fff"/>
<circle cx="1722.7" cy="262.1" r="27.35" fill="#000"/>
<ellipse cx="1722.7" cy="258.6" rx="16" ry="14.6" fill="#fff"/>
<path d="M1774.9 402 L1774.9 358 L1779.5 353.5" stroke="#000" stroke-width="5.6" fill="none" stroke-linecap="butt" stroke-linejoin="round"/>
<path d="M1827.5 353.5 L1832.3 358 L1832.3 389.9 L1819 389.9" stroke="#000" stroke-width="5.4" fill="none" stroke-linecap="butt" stroke-linejoin="round"/>
<path d="M1821.2 389 L1821.2 402" stroke="#000" stroke-width="5" fill="none" stroke-linecap="butt" stroke-linejoin="round"/>
<path d="M1781.7 340 L1781.7 370" stroke="#000" stroke-width="5.2" fill="none" stroke-linecap="butt" stroke-linejoin="round"/>
<path d="M1827.75 340 L1827.75 370" stroke="#000" stroke-width="5.2" fill="none" stroke-linecap="butt" stroke-linejoin="round"/>
<path d="M1777.6 370.2 A27.1 27.1 0 0 0 1831.8 370.2 L1824.8 364.8 A20 20 0 0 1 1784.8 364.8 Z" fill="#000"/>
<circle cx="1805" cy="329.25" r="28.45" fill="#000"/>
<ellipse cx="1804.8" cy="328.7" rx="20.2" ry="18.2" fill="#fff"/>
<circle cx="1805" cy="307" r="26.8" fill="#000"/>
<ellipse cx="1805" cy="304.1" rx="16" ry="14.6" fill="#fff"/>
<path d="M1691.2 438.9 L1691.2 413.3 Q1691.2 399.3 1705.2 399.3 L1822.6 399.3 Q1836.6 399.3 1836.6 413.3 L1836.6 438.9 L1827.1 438.9 L1827.1 411.3 Q1827.1 405.3 1821.1 405.3 L1706.7 405.3 Q1700.7 405.3 1700.7 411.3 L1700.7 438.9 Z" fill="#000"/>
<path d="M1696.2 438.9 L1831.8 438.9 Q1836.9 438.9 1836.9 444 L1836.9 447.8 Q1836.9 452.8 1831.8 452.8 L1696.2 452.8 Q1691.2 452.8 1691.2 447.8 L1691.2 444 Q1691.2 438.9 1696.2 438.9 Z" stroke="#000" stroke-width="6" fill="none" stroke-linecap="butt" stroke-linejoin="round"/>
<path d="M1691.2 438.9 L1836.9 438.9" stroke="#000" stroke-width="8.5" fill="none" stroke-linejoin="round" stroke-linecap="butt"/>
<path d="M1714.5 453 L1714.5 887" stroke="#000" stroke-width="6" fill="none" stroke-linecap="butt" stroke-linejoin="round"/>
<path d="M1813 453 L1813 887" stroke="#000" stroke-width="6" fill="none" stroke-linecap="butt" stroke-linejoin="round"/>
<path d="M1696 887.2 L1831.8 887.2 Q1836.5 887.2 1836.5 892 L1836.5 897.3 Q1836.5 902.1 1831.8 902.1 L1696 902.1 Q1691 902.1 1691 897.3 L1691 892 Q1691 887.2 1696 887.2 Z" stroke="#000" stroke-width="6" fill="none" stroke-linecap="butt" stroke-linejoin="round"/>
<path d="M1691 902.1 L1836.5 902.1" stroke="#000" stroke-width="8.5" fill="none" stroke-linejoin="round" stroke-linecap="butt"/>
<path d="M1690.8 902 L1690.8 928 Q1690.8 942.2 1705 942.2 L1822.7 942.2 Q1836.9 942.2 1836.9 928 L1836.9 902 L1826.9 902 L1826.9 929.5 Q1826.9 936 1820.4 936 L1707.3 936 Q1700.8 936 1700.8 929.5 L1700.8 902 Z" fill="#000"/>
<path d="M1048.75 1125.5 L1048.75 1167" stroke="#000" stroke-width="11" fill="none" stroke-linejoin="round" stroke-linecap="butt"/>
<path d="M1061 1077.25 L1474 1077.25 Q1486.4 1077.25 1486.4 1089.6 L1486.4 1202.5 Q1486.4 1214.8 1474 1214.8 L1061 1214.8" stroke="#000" stroke-width="12.75" fill="none" stroke-linejoin="round" stroke-linecap="butt"/>
<path d="M1044.5 1079.6 Q1052 1071 1062 1070.9 L1062 1083.6 L1044.5 1085 Z" fill="#000"/>
<path d="M1044.5 1207.8 L1062 1208.4 L1062 1221.2 Q1052 1221.2 1044.5 1213.6 Z" fill="#000"/>
<path d="M898 1082.2 L1203 1082.2" stroke="#000" stroke-width="5.6" fill="none" stroke-linecap="butt" stroke-linejoin="round"/>
<path d="M898 1128.2 L1203 1128.2" stroke="#000" stroke-width="5.6" fill="none" stroke-linecap="butt" stroke-linejoin="round"/>
<ellipse cx="889.3" cy="1105.3" rx="18.8" ry="26.6" fill="#000"/>
<ellipse cx="881.9" cy="1105.1" rx="3.8" ry="15.8" fill="#fff"/>
<path d="M897.5 1085.8 Q906 1105.3 897.5 1124.8" stroke="#fff" stroke-width="2.2" fill="none"/>
<path d="M945.5 1080.8 Q959 1105.3 945.5 1129.8" stroke="#000" stroke-width="8.5" fill="none" stroke-linejoin="round" stroke-linecap="round"/>
<path d="M953.5 1080.3 Q974.5 1105.3 953.5 1130.3" stroke="#000" stroke-width="6.6" fill="none" stroke-linejoin="round" stroke-linecap="round"/>
<path d="M898 1164.4 L1160 1164.4" stroke="#000" stroke-width="5.6" fill="none" stroke-linecap="butt" stroke-linejoin="round"/>
<path d="M898 1210.4 L1060 1210.4" stroke="#000" stroke-width="5.6" fill="none" stroke-linecap="butt" stroke-linejoin="round"/>
<ellipse cx="889.3" cy="1187.5" rx="18.8" ry="26.6" fill="#000"/>
<ellipse cx="881.9" cy="1187.3" rx="3.8" ry="15.8" fill="#fff"/>
<path d="M897.5 1168 Q906 1187.5 897.5 1207" stroke="#fff" stroke-width="2.2" fill="none"/>
<path d="M945.5 1163 Q959 1187.5 945.5 1212" stroke="#000" stroke-width="8.5" fill="none" stroke-linejoin="round" stroke-linecap="round"/>
<path d="M953.5 1162.5 Q974.5 1187.5 953.5 1212.5" stroke="#000" stroke-width="6.6" fill="none" stroke-linejoin="round" stroke-linecap="round"/>
<path d="M1149.5 1084.6 Q1167 1106 1149.5 1127.5" stroke="#000" stroke-width="5.6" fill="none" stroke-linecap="butt" stroke-linejoin="round"/>
<path d="M1165.9 1084.6 L1165.9 1129.6" stroke="#000" stroke-width="5" fill="none" stroke-linecap="butt" stroke-linejoin="round"/>
<path d="M1045.5 1166 Q1059.5 1187.5 1045.5 1208.5" stroke="#000" stroke-width="5.6" fill="none" stroke-linecap="butt" stroke-linejoin="round"/>
<path d="M1058.1 1163.8 L1058.1 1208.8" stroke="#000" stroke-width="5.6" fill="none" stroke-linecap="butt" stroke-linejoin="round"/>
<path d="M1203 1080.9 L1268.5 1080.9 L1268.5 1135.2 L1203 1135.2 Z" stroke="#000" stroke-width="5.4" fill="none" stroke-linecap="butt" stroke-linejoin="round"/>
<path d="M1203 1094.6 L1252.6 1094.6 L1252.6 1118.9 L1203 1118.9" stroke="#000" stroke-width="5.2" fill="none" stroke-linecap="butt" stroke-linejoin="round"/>
<path d="M1252.6 1094.6 L1268.5 1080.9 M1252.6 1118.9 L1268.5 1135.2" stroke="#000" stroke-width="5.2" fill="none" stroke-linecap="butt" stroke-linejoin="round"/>
<path d="M1159.9 1209 L1159.9 1156.7 L1225.5 1156.7 L1225.5 1209" stroke="#000" stroke-width="5.4" fill="none" stroke-linecap="butt" stroke-linejoin="round"/>
<path d="M1159.9 1173.6 L1209.6 1173.6 L1209.6 1198.9 L1159.9 1198.9" stroke="#000" stroke-width="5.2" fill="none" stroke-linecap="butt" stroke-linejoin="round"/>
<path d="M1209.6 1173.6 L1225.5 1157.7 M1209.6 1198.9 L1225.5 1209.2" stroke="#000" stroke-width="5.2" fill="none" stroke-linecap="butt" stroke-linejoin="round"/>
<path d="M1147 1146.4 L1174 1146.4" stroke="#000" stroke-width="8.2" fill="none" stroke-linejoin="round" stroke-linecap="round"/>
<path d="M1361.5 1146.4 L1389 1146.4" stroke="#000" stroke-width="8.2" fill="none" stroke-linejoin="round" stroke-linecap="round"/>
</svg>
</body></html>
